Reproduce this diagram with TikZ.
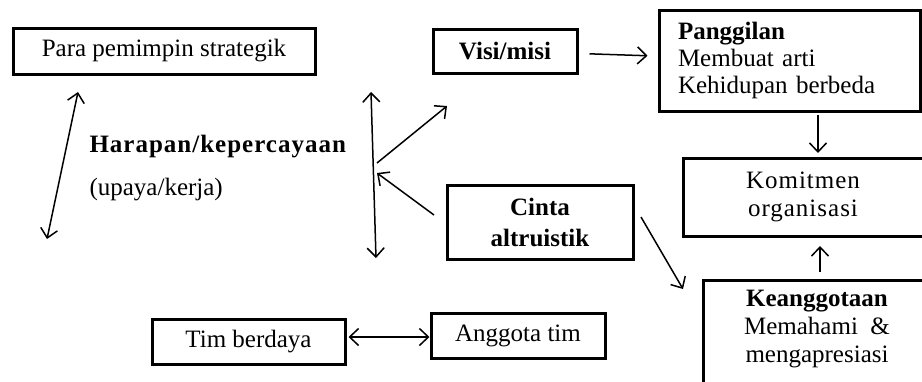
\documentclass[tikz,border=0pt]{standalone}
\usepackage{fontspec}
\setmainfont{Liberation Serif}
\usetikzlibrary{arrows.meta}

\begin{document}
\begin{tikzpicture}[x=1pt, y=-1pt,
    every node/.style={font=\fontsize{25}{27}\selectfont},
    kotak/.style={draw, line width=3pt, inner sep=0pt},
    panah/.style={-{Straight Barb[length=9pt,width=17pt]}, line width=1.5pt},
    duaarah/.style={{Straight Barb[length=9pt,width=17pt]}-{Straight Barb[length=9pt,width=17pt]}, line width=1.5pt}]
    \useasboundingbox (0,0) rectangle (922,381);

    \node[kotak, minimum width=302pt, minimum height=46pt] (strategik) at (164,51) {Para pemimpin strategik};

    \node[anchor=west, font=\fontsize{25}{27}\selectfont\bfseries\addfontfeature{LetterSpace=4}] (harapan) at (86,147) {Harapan/kepercayaan};
    \node[anchor=west] (upaya) at (86,190) {(upaya/kerja)};
      \coordinate (k1) at (78,92);
      \coordinate (k2) at (47,239);
        \draw[duaarah] (k1) -- (k2);

    \coordinate (v1) at (371,92);
    \coordinate (v2) at (376,258);
      \draw[duaarah] (v1) -- (v2);

    \node[kotak, minimum width=144pt, minimum height=44pt, font=\fontsize{25}{27}\selectfont\bfseries] (visi) at (505,51) {Visi/misi};
      \coordinate (t1) at (377,163);
      \coordinate (t2) at (447,106);
        \draw[panah] (t1) -- (t2);

    \node[kotak, minimum width=186pt, minimum height=74pt, align=center, font=\fontsize{25}{31}\selectfont\bfseries] (cinta) at (540,222) {Cinta\\altruistik};
      \coordinate (t3) at (434,215);
      \coordinate (t4) at (377,173);
        \draw[panah] (t3) -- (t4);

    \node[kotak, minimum width=261pt, minimum height=101pt, inner xsep=19pt, text width=223pt, align=left] (panggilan) at (789.5,60.5) {\textbf{Panggilan}\\Membuat arti\\Kehidupan berbeda};
      \draw[panah, shorten <=11pt, shorten >=10pt] (visi) -- (panggilan);

    \node[kotak, minimum width=240pt, minimum height=78pt, align=center, font=\fontsize{25}{28}\selectfont\addfontfeature{LetterSpace=4}] (komitmen) at (803,197) {Komitmen\\organisasi};
      \draw[panah, shorten <=4pt, shorten >=5pt] (818,111) -- (818,158);

    \node[kotak, minimum width=230pt, minimum height=113pt, anchor=north west] (keanggotaan) at (702,279) {};
    \node[align=center, font=\fontsize{25}{28}\selectfont] (keatext) at (817,329) {\textbf{Keanggotaan}\\Memahami~~\&\\mengapresiasi};
      \draw[panah, shorten <=7pt, shorten >=10pt] (820,279) -- (820,236);
      \coordinate (t5) at (641,217);
      \coordinate (t6) at (683,289);
        \draw[panah] (t5) -- (t6);

    \node[kotak, minimum width=193pt, minimum height=45pt] (tim) at (248.5,341.5) {Tim berdaya};
    \node[kotak, minimum width=174pt, minimum height=45pt] (anggota) at (518,335.5) {Anggota tim};
      \draw[duaarah, shorten <=2pt] (tim.east |- 0,337) -- (anggota.west |- 0,337);
\end{tikzpicture}
\end{document}
